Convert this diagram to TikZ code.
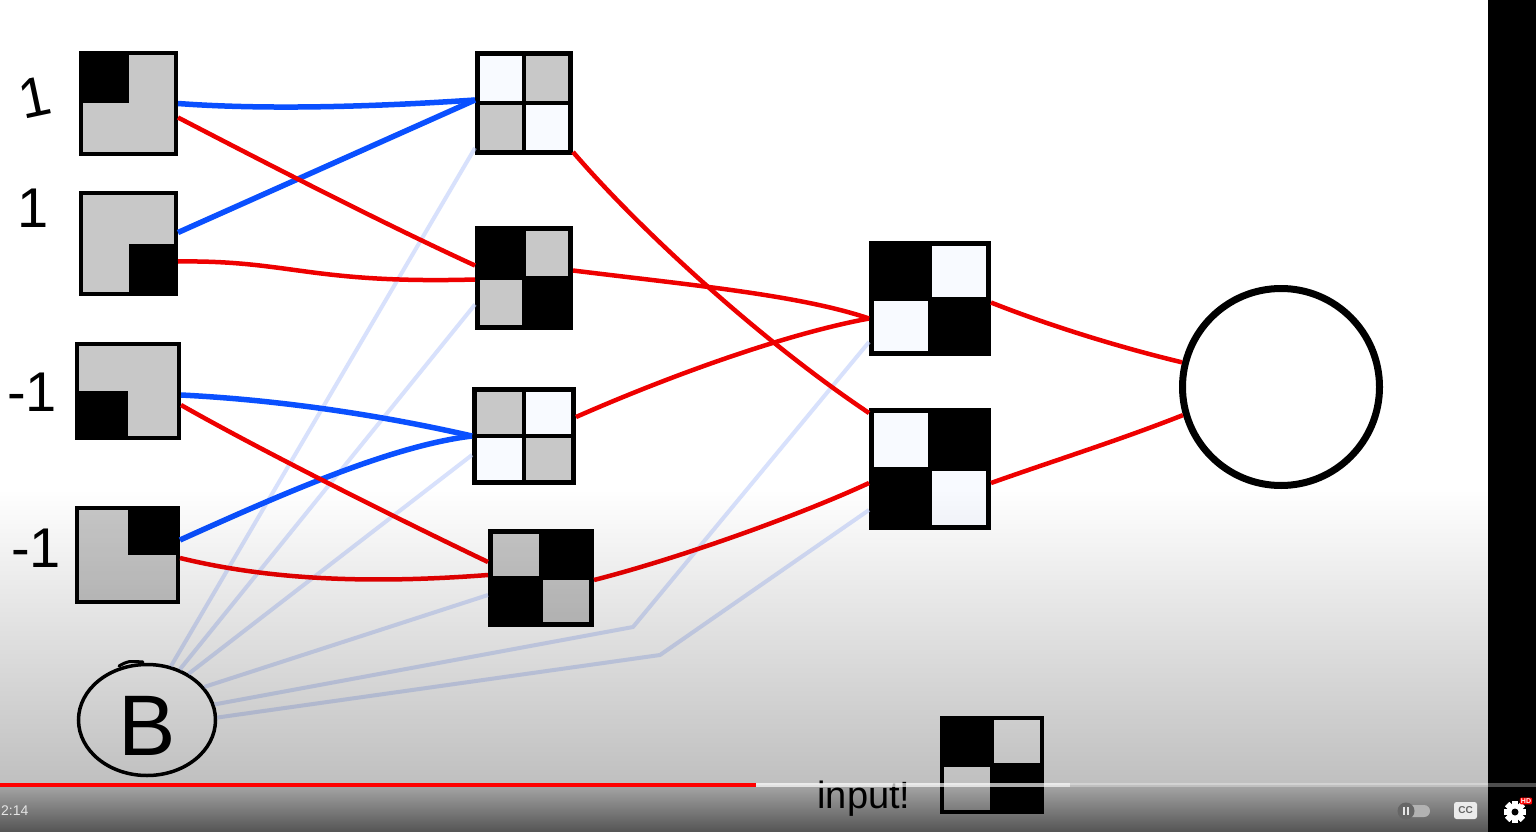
\documentclass[tikz,border=0pt]{standalone}
\usepackage{fontspec}
\setmainfont{Liberation Sans}
\usetikzlibrary{shapes.geometric, fadings}
\definecolor{cellgray}{RGB}{200,200,200}
\definecolor{cellwhite}{RGB}{248,250,255}
\definecolor{wblue}{RGB}{10,80,255}
\definecolor{wred}{RGB}{238,0,0}
\definecolor{faint}{RGB}{190,205,250}
\tikzfading[name=fadedown, top color=transparent!100, bottom color=transparent!0]
\tikzfading[name=bardown, top color=transparent!48, bottom color=transparent!0]

\begin{document}
\begin{tikzpicture}[x=1pt, y=-1pt,
    dark/.style={path picture={\fill[black] (path picture bounding box.center) rectangle (path picture bounding box.#1);}},
    cells/.style n args={4}{fill=black, path picture={
        \fill[#1] ([shift={(3,3)}]path picture bounding box.north west) rectangle ([shift={(-2,-2)}]path picture bounding box.center);
        \fill[#2] ([shift={(-3,3)}]path picture bounding box.north east) rectangle ([shift={(2,-2)}]path picture bounding box.center);
        \fill[#3] ([shift={(3,-3)}]path picture bounding box.south west) rectangle ([shift={(-2,2)}]path picture bounding box.center);
        \fill[#4] ([shift={(-3,-3)}]path picture bounding box.south east) rectangle ([shift={(2,2)}]path picture bounding box.center);}}]
        \tikzstyle{inp} = [rectangle, draw, line width=4pt, fill=cellgray, inner sep=0pt, minimum width=95pt, minimum height=101pt]
        \tikzstyle{hid} = [rectangle, draw, line width=4pt, inner sep=0pt, minimum width=94pt, minimum height=100pt]
        \tikzstyle{val} = [inner sep=0pt, font=\fontsize{56}{56}\selectfont]
        \tikzstyle{wpos} = [draw=wblue, line width=5.5pt]
        \tikzstyle{wneg} = [draw=wred, line width=4.5pt]
        \tikzstyle{wbias} = [draw=faint, draw opacity=0.6, line width=4pt, line join=round]

        \useasboundingbox (0,0) rectangle (1536,832);
        \fill[white] (0,0) rectangle (1488,832);

        \node [inp, dark=north west] (in1) at (128.5,103.5) {};
        \node [inp, dark=south east] (in2) at (128.5,243.5) {};
        \node [inp, dark=south west, minimum width=102pt, minimum height=94pt] (in3) at (128,391) {};
        \node [inp, dark=north east, minimum width=101pt, minimum height=94pt] (in4) at (127.5,555) {};

        \node [val, rotate=12] (v1) at (35,97) {1};
        \node [val] (v2) at (33,208) {1};
        \node [val] (v3) at (32,392) {-1};
        \node [val] (v4) at (36,548) {-1};

        \node [hid, cells={cellwhite}{cellgray}{cellgray}{cellwhite}] (h1) at (524,103) {};
        \node [hid, cells={black}{cellgray}{cellgray}{black}] (h2) at (524,277.5) {};
        \node [hid, cells={cellgray}{cellwhite}{cellwhite}{cellgray}, minimum width=100pt, minimum height=94pt] (h3) at (524,436) {};
        \node [hid, cells={cellgray}{black}{black}{cellgray}, minimum width=102pt, minimum height=94pt] (h4) at (541,578) {};

        \node [hid, cells={black}{cellwhite}{cellwhite}{black}, minimum width=118pt, minimum height=111pt] (g1) at (930,298.5) {};
        \node [hid, cells={cellwhite}{black}{black}{cellwhite}, minimum width=118pt, minimum height=118pt] (g2) at (930,469) {};

        \node [circle, draw, line width=7pt, inner sep=0pt, minimum size=197pt] (out) at (1281,387) {};

        \node [ellipse, draw, line width=3.5pt, inner sep=0pt, minimum width=137pt, minimum height=111pt, text height=70pt, font=\fontsize{86}{86}\selectfont] (bias) at (147,720) {B};
        \draw [line width=3pt, line cap=round] (119,666) .. controls (128,661) .. (143,662);

        \coordinate (k1) at (633,627);
        \coordinate (k2) at (660,655);
        \draw [wbias] (bias.66) -- ([yshift=7pt]h1.south west);
        \draw [wbias] (bias.57) -- ([yshift=25pt]h2.south west);
        \draw [wbias] (bias.48) -- ([yshift=30pt]h3.south west);
        \draw [wbias] (bias.30) -- ([yshift=32pt]h4.south west);
        \draw [wbias] (bias.13) -- (k1) -- ([yshift=14pt]g1.south west);
        \draw [wbias] (bias.2) -- (k2) -- ([yshift=20pt]g2.south west);

        \draw [wpos] (in1.east) .. controls (280,111) and (400,105) .. ([yshift=3pt]h1.west);
        \draw [wpos] ([yshift=11pt]in2.east) -- ([yshift=3pt]h1.west);
        \draw [wpos] ([yshift=-4pt]in3.east) .. controls (280,400) and (380,415) .. (h3.west);
        \draw [wpos] ([yshift=15pt]in4.east) .. controls (280,495) and (390,446) .. (h3.west);

        \draw [wneg] ([yshift=-14pt]in1.east) .. controls (260,160) and (380,222) .. ([yshift=12pt]h2.west);
        \draw [wneg] ([yshift=-18pt]in2.east) .. controls (290,260) and (310,284) .. ([yshift=-2pt]h2.west);
        \draw [wneg] ([yshift=-14pt]in3.east) .. controls (260,450) and (400,520) .. ([yshift=16pt]h4.west);
        \draw [wneg] ([yshift=-3pt]in4.east) .. controls (270,580) and (370,584) .. ([yshift=3pt]h4.west);

        \draw [wneg] ([yshift=3pt]h1.south east) .. controls (640,230) and (760,340) .. ([yshift=-5pt]g2.north west);
        \draw [wneg] ([yshift=7pt]h2.east) .. controls (690,285) and (800,295) .. ([yshift=-20pt]g1.west);
        \draw [wneg] ([yshift=19pt]h3.east) .. controls (660,380) and (780,335) .. ([yshift=-20pt]g1.west);
        \draw [wneg] ([yshift=-2pt]h4.east) .. controls (680,558) and (800,515) .. ([yshift=-14pt]g2.west);

        \draw [wneg] ([yshift=-4pt]g1.east) .. controls (1040,322) and (1110,345) .. (out.166);
        \draw [wneg] ([yshift=-14pt]g2.east) .. controls (1050,462) and (1120,440) .. (out.196);

        \node [anchor=base, inner sep=0pt, font=\fontsize{38}{40}\selectfont] (note) at (864,808) {input!};
        \node [draw, line width=4pt, inner sep=0pt, minimum width=100pt, minimum height=94pt] (sketch) at (992,765) {};
        \fill (sketch.north west) rectangle (sketch.center);
        \fill (sketch.center) rectangle (sketch.south east);
        \draw [line width=3.5pt] (sketch.north) -- (sketch.south);
        \draw [line width=3.5pt] (sketch.west) -- (sketch.east);

        \fill [black, fill opacity=0.25, path fading=fadedown] (0,490) rectangle (1536,785);
        \fill [black, fill opacity=0.67, path fading=bardown] (0,785) rectangle (1536,832);
        \fill [black] (1488,0) rectangle (1536,832);

        \draw [line width=4pt, white, draw opacity=0.3] (0,785) -- (1536,785);
        \draw [line width=4pt, white, draw opacity=0.55] (756,785) -- (1070,785);
        \draw [line width=4pt, red] (0,785) -- (756,785);

        \node [anchor=base west, inner sep=0pt, text=black!10, font=\fontsize{14}{14}\selectfont] (time) at (1,815) {2:14};
        \fill [black!30, rounded corners=6pt] (1398,805) rectangle (1430,817);
        \fill [black!60] (1406,811) circle (8.5);
        \fill [black!10] (1403,807) rectangle (1404.8,815);
        \fill [black!10] (1407.2,807) rectangle (1409,815);
        \node [fill=black!8, rounded corners=2.5pt, inner sep=0pt, minimum width=23pt, minimum height=17pt, text=black!60, font=\fontsize{10}{10}\selectfont\bfseries] (cc) at (1465.5,810.5) {CC};
        \foreach \a in {0,45,...,315}
            \fill [white, rotate around={\a:(1515,812)}] (1512,801) rectangle (1518,823);
        \fill [white] (1515,812) circle (8);
        \fill [black] (1515,812) circle (3.5);
        \node [fill=red, text=white, rounded corners=1pt, inner sep=1pt, font=\fontsize{7}{7}\selectfont\bfseries] (hd) at (1526,801) {HD};
\end{tikzpicture}
\end{document}
